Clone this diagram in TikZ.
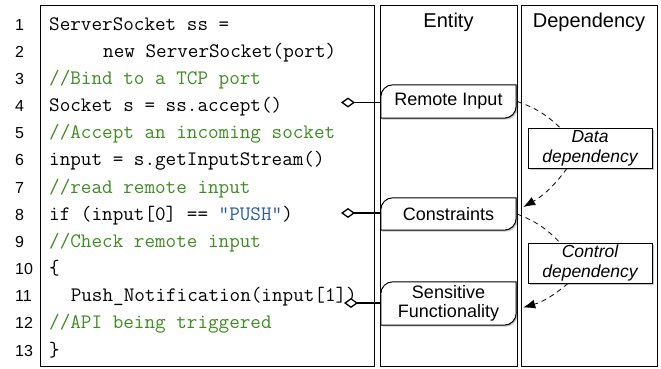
\documentclass[tikz,border=0pt]{standalone}
\usepackage{fontspec}
\setmainfont{Liberation Sans}
\usetikzlibrary{arrows.meta,shadows,backgrounds,calc}
\definecolor{cmtgreen}{RGB}{63,140,35}
\definecolor{strblue}{RGB}{40,92,160}
\newcommand\codefnt{\ttfamily\addfontfeatures{FakeBold=0.6}\fontsize{20.57pt}{24pt}\selectfont}
\newcommand\numfnt{\fontsize{16pt}{19pt}\selectfont}
\newcommand\headfnt{\fontsize{20pt}{24pt}\selectfont}
\newcommand\entfnt{\fontsize{18pt}{20pt}\selectfont}
\newcommand\depfnt{\itshape\fontsize{17.5pt}{20pt}\selectfont}
\tikzset{
  colbox/.style={draw, line width=0.9pt},
  codeline/.style={font=\codefnt, anchor=base west, inner sep=0pt},
  cmtline/.style={codeline, text=cmtgreen},
  lnum/.style={font=\numfnt, anchor=base west, inner sep=0pt},
  headtxt/.style={font=\headfnt, inner sep=0pt},
  entity/.style={font=\entfnt, minimum width=135pt, inner sep=0pt, align=center},
  entframe/.style={draw, line width=1pt, fill=white,
    drop shadow={shadow xshift=1.5pt, shadow yshift=-1.5pt, opacity=0.45}},
  depbox/.style={draw, line width=0.8pt, fill=white, font=\depfnt, align=center,
    minimum width=124pt, minimum height=40pt, inner sep=0pt,
    drop shadow={shadow xshift=1.5pt, shadow yshift=-1.5pt, opacity=0.45}},
  link/.style={line width=1.3pt, {Diamond[fill=white,length=14pt,width=10pt,line width=1.3pt]}-},
  depline/.style={dash pattern=on 5pt off 4pt, line width=0.8pt},
  deparrow/.style={depline, -{Latex[length=12pt,width=9pt]}},
}
\newcommand\entoutline[1]{%
  \path[entframe] ([yshift=-12pt]#1.north west) arc[start angle=180, end angle=90, radius=12pt]
    -- (#1.north east) -- ([yshift=12pt]#1.south east)
    arc[start angle=0, end angle=-90, radius=12pt] -- (#1.south west) -- cycle;}
\begin{document}
\begin{tikzpicture}[x=1pt,y=1pt]
\useasboundingbox (0,0) rectangle (661,-368);
% columns
\draw[colbox] (40,-5) rectangle (374,-366);
\draw[colbox] (380,-5) rectangle (517,-366);
\draw[colbox] (521,-5) rectangle (657,-366);
\node[headtxt] (hent) at (448.5,-22) {Entity};
\node[headtxt] (hdep) at (589,-22) {Dependency};
% line numbers
\foreach \i in {1,...,13}
  \node[lnum] (n\i) at (15,{-30-(\i-1)*27.17}) {\i};
% code
\node[codeline] (c1) at (49,-30) {ServerSocket ss =};
\node[codeline] (c2) at (103,-57.17) {new ServerSocket(port)};
\node[cmtline] (c3) at (49,-84.33) {//Bind to a TCP port};
\node[codeline] (c4) at (49,-111.5) {Socket s = ss.accept()};
\node[cmtline] (c5) at (49,-138.67) {//Accept an incoming socket};
\node[codeline] (c6) at (49,-165.83) {input = s.getInputStream()};
\node[cmtline] (c7) at (49,-193) {//read remote input};
\node[codeline] (c8) at (49,-220.17) {if (input[0] == \textcolor{strblue}{“PUSH”})};
\node[cmtline] (c9) at (49,-247.33) {//Check remote input};
\node[codeline] (c10) at (49,-274.5) {\{};
\node[codeline] (c11) at (70.6,-301.67) {Push\_Notification(input[1])};
\node[cmtline] (c12) at (49,-328.83) {//API being triggered};
\node[codeline] (c13) at (49,-356) {\}};
% entities
\node[entity, minimum height=33pt] (ri) at (448.5,-101.5) {Remote Input};
\node[entity, minimum height=32pt] (cn) at (448.5,-214) {Constraints};
\node[entity, minimum height=43pt] (sf) at (448.5,-303.5) {Sensitive\\[-1pt]Functionality};
\begin{scope}[on background layer]
  \entoutline{ri}
  \entoutline{cn}
  \entoutline{sf}
\end{scope}
% dependency boxes
\node[depbox] (dd) at (590,-148) {Data\\dependency};
\node[depbox] (cd) at (590,-263) {Control\\dependency};
% links from code to entities
\coordinate (d4) at (341,-102.5);
\coordinate (d8) at (341,-213);
\coordinate (d11) at (344,-303);
\draw[link] (d4) -- (d4 -| ri.west);
\draw[link] (d8) -- (d8 -| cn.west);
\draw[link] (d11) -- (d11 -| sf.west);
% dependency arrows
\draw[depline] ([xshift=1pt]ri.east) to[bend left=12] ([xshift=-30pt]dd.north);
\draw[deparrow] ([xshift=-23pt]dd.south) to[bend left=12] ([xshift=7pt,yshift=7pt]cn.east);
\draw[depline] ([xshift=1pt]cn.east) to[bend left=12] ([xshift=-30pt]cd.north);
\draw[deparrow] ([xshift=-22pt]cd.south) to[bend left=12] ([xshift=7pt,yshift=-4pt]sf.east);
\end{tikzpicture}
\end{document}
